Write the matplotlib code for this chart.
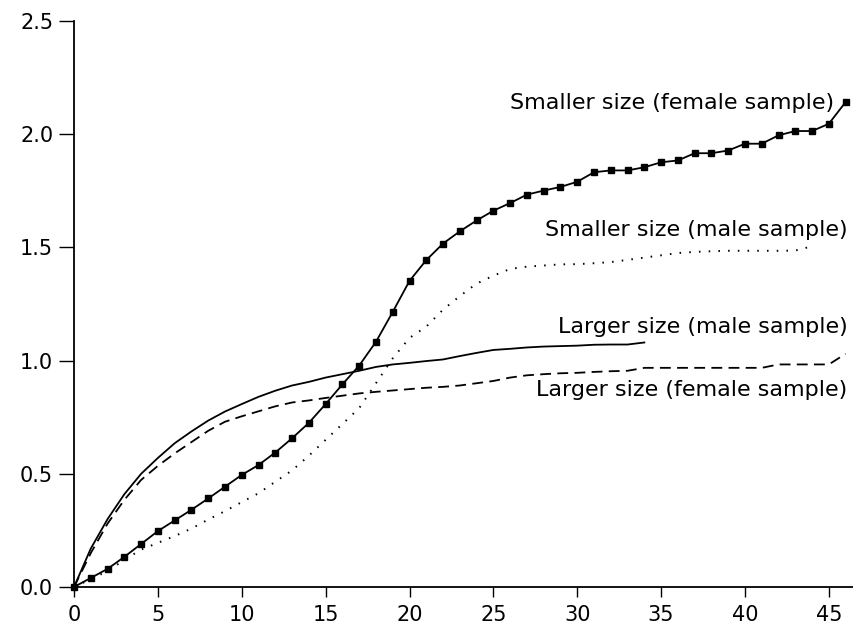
import matplotlib
matplotlib.use("Agg")
import matplotlib.pyplot as plt

# x = time step, y = cumulative value
small_female_x = list(range(0, 47))
small_female_y = [0.0, 0.04, 0.08, 0.133, 0.19, 0.247, 0.294, 0.341, 0.391, 0.443,
                  0.495, 0.539, 0.594, 0.657, 0.725, 0.808, 0.895, 0.978, 1.083, 1.215,
                  1.352, 1.444, 1.517, 1.571, 1.619, 1.662, 1.696, 1.733, 1.751, 1.767,
                  1.79, 1.832, 1.84, 1.84, 1.854, 1.876, 1.884, 1.916, 1.916, 1.928,
                  1.958, 1.958, 1.995, 2.014, 2.014, 2.046, 2.142]

small_male_x = list(range(0, 45))
small_male_y = [0.0, 0.035, 0.07, 0.12, 0.165, 0.195, 0.225, 0.258, 0.298, 0.335,
                0.375, 0.414, 0.465, 0.515, 0.58, 0.65, 0.72, 0.79, 0.9, 1.01,
                1.1, 1.15, 1.225, 1.285, 1.34, 1.375, 1.405, 1.415, 1.42, 1.425,
                1.426, 1.43, 1.435, 1.445, 1.455, 1.465, 1.475, 1.48, 1.483, 1.485,
                1.485, 1.485, 1.485, 1.486, 1.505]

large_male_x = list(range(0, 35))
large_male_y = [0.0, 0.17, 0.30, 0.41, 0.50, 0.57, 0.635, 0.687, 0.735, 0.775,
                0.808, 0.84, 0.867, 0.89, 0.906, 0.925, 0.94, 0.955, 0.972, 0.983,
                0.99, 0.998, 1.005, 1.02, 1.034, 1.047, 1.052, 1.058, 1.062, 1.064,
                1.066, 1.07, 1.071, 1.071, 1.08]

large_female_x = list(range(0, 47))
large_female_y = [0.0, 0.15, 0.28, 0.385, 0.473, 0.535, 0.59, 0.64, 0.69, 0.73,
                  0.754, 0.776, 0.798, 0.815, 0.824, 0.835, 0.845, 0.855, 0.862, 0.868,
                  0.874, 0.88, 0.884, 0.89, 0.9, 0.91, 0.925, 0.935, 0.94, 0.944,
                  0.946, 0.95, 0.953, 0.955, 0.968, 0.968, 0.968, 0.968, 0.968, 0.968,
                  0.968, 0.968, 0.983, 0.983, 0.983, 0.983, 1.03]

labels = ["Smaller size (female sample)", "Smaller size (male sample)",
          "Larger size (male sample)", "Larger size (female sample)"]
label_pos = [(45.3, 2.14), (46.1, 1.575), (46.1, 1.15), (46.1, 0.87)]

x_ticks = [0, 5, 10, 15, 20, 25, 30, 35, 40, 45]
y_ticks = [0.0, 0.5, 1.0, 1.5, 2.0, 2.5]

fig = plt.figure(figsize=(8.54, 6.29), dpi=100)
ax = fig.add_axes([0.0867, 0.0668, 0.9133, 0.8998])

ax.plot(small_female_x, small_female_y, "-s", color="black", lw=1.3,
        markersize=4.5, clip_on=False)
ax.plot(small_male_x, small_male_y, color="black", lw=1.4,
        linestyle=(0, (0.8, 4.2)), clip_on=False)
ax.plot(large_male_x, large_male_y, color="black", lw=1.3, clip_on=False)
ax.plot(large_female_x, large_female_y, color="black", lw=1.3,
        linestyle=(0, (6, 3.5)), clip_on=False)

for txt, (tx, ty) in zip(labels, label_pos):
    ax.text(tx, ty, txt, ha="right", va="center", fontsize=16, color="black")

ax.set_xlim(0, 46.5)
ax.set_ylim(0, 2.5)
ax.set_xticks(x_ticks)
ax.set_yticks(y_ticks)
ax.set_yticklabels([f"{v:.1f}" for v in y_ticks])
ax.tick_params(axis="y", direction="out", length=11, width=1, labelsize=15, pad=4)
ax.tick_params(axis="x", direction="out", length=7, width=1, labelsize=15, pad=6)
for side in ("top", "right"):
    ax.spines[side].set_visible(False)
for side in ("left", "bottom"):
    ax.spines[side].set_linewidth(1.3)

fig.savefig("out.png", dpi=100)
